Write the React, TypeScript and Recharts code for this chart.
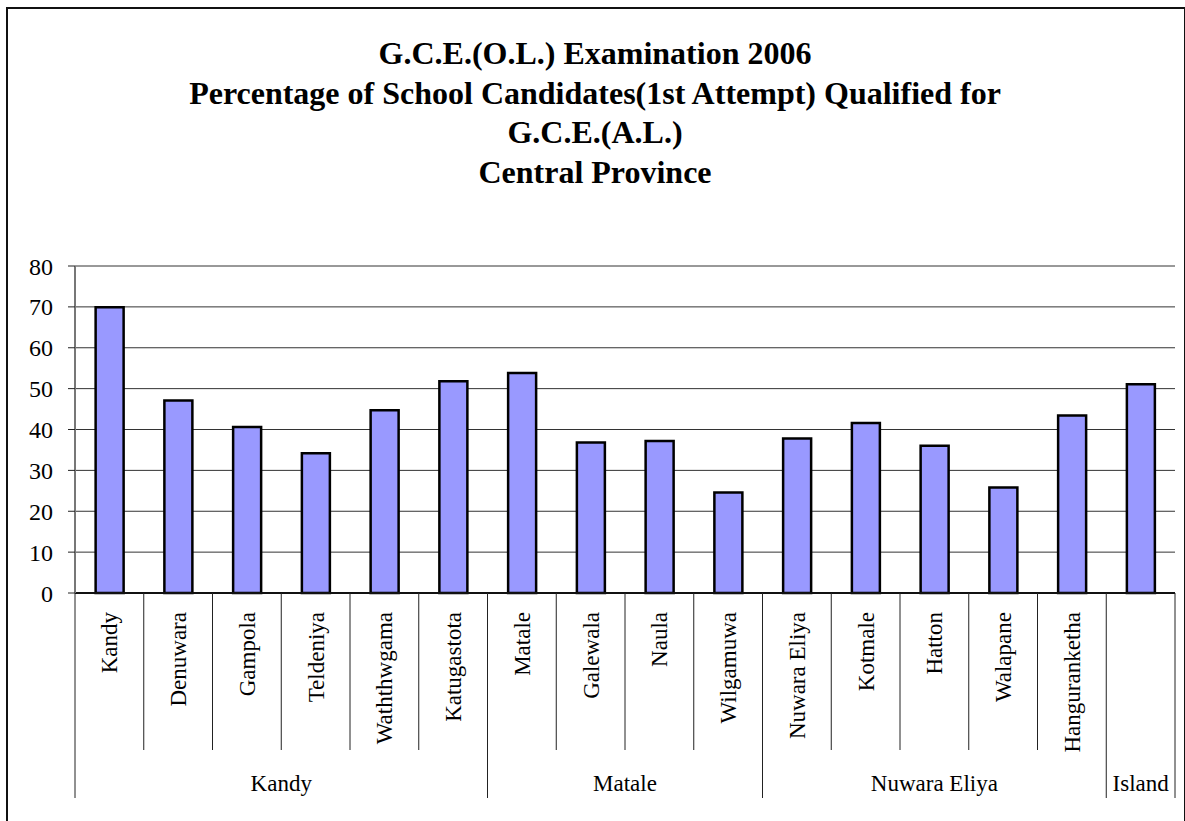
import { BarChart, Bar, XAxis, YAxis, CartesianGrid } from 'recharts';

const categories = [
  'Kandy', 'Denuwara', 'Gampola', 'Teldeniya', 'Waththwgama', 'Katugastota',
  'Matale', 'Galewala', 'Naula', 'Wilgamuwa',
  'Nuwara Eliya', 'Kotmale', 'Hatton', 'Walapane', 'Hanguranketha',
  '',
];
const percentages = [
  69.9, 47.1, 40.6, 34.2, 44.7, 51.8,
  53.8, 36.8, 37.2, 24.6,
  37.8, 41.6, 36.0, 25.8, 43.4,
  51.1,
];
const groups = ['Kandy', 'Matale', 'Nuwara Eliya', 'Island'];
const groupSizes = [6, 4, 5, 1];
const yTicks = [0, 10, 20, 30, 40, 50, 60, 70, 80];

const titleLines = [
  'G.C.E.(O.L.) Examination 2006',
  'Percentage of School Candidates(1st Attempt) Qualified for',
  'G.C.E.(A.L.)',
  'Central Province',
];

const data = categories.map((name, i) => ({ name, value: percentages[i] }));

const W = 1185;
const H = 821;
const Y_AXIS_W = 75;
const MARGIN = { top: 266, right: 10, left: 0, bottom: 0 };
const PLOT_BOTTOM = 593;
const BAND = (W - MARGIN.left - MARGIN.right - Y_AXIS_W) / categories.length;
const FONT = '"Liberation Serif", "Times New Roman", serif';

// index where each group starts
const groupStarts: Record<number, number> = {};
let acc = 0;
groupSizes.forEach((n, g) => {
  groupStarts[acc] = g;
  acc += n;
});

function CategoryTick(props: any) {
  const { x, payload } = props;
  const i: number = payload.index;
  const left = x - BAND / 2;
  const g = groupStarts[i];
  const isStart = g !== undefined;
  return (
    <g>
      <line x1={left} x2={left} y1={PLOT_BOTTOM} y2={isStart ? 798 : 750} stroke="#222" strokeWidth={1} />
      {i === categories.length - 1 && (
        <line x1={x + BAND / 2} x2={x + BAND / 2} y1={PLOT_BOTTOM} y2={798} stroke="#222" strokeWidth={1} />
      )}
      {payload.value && (
        <text
          transform={`translate(${x},612) rotate(-90)`}
          textAnchor="end"
          dy="0.35em"
          fontSize={23}
          fontFamily={FONT}
          fill="#000"
        >
          {payload.value}
        </text>
      )}
      {isStart && (
        <text
          x={left + (groupSizes[g] * BAND) / 2}
          y={791}
          textAnchor="middle"
          fontSize={23}
          fontFamily={FONT}
          fill="#000"
        >
          {groups[g]}
        </text>
      )}
    </g>
  );
}

export default function App() {
  return (
    <div style={{ position: 'relative', width: W, height: H, background: '#fff', overflow: 'hidden' }}>
      <style>{'body{margin:0}'}</style>
      <div
        style={{
          position: 'absolute',
          left: 6,
          top: 7,
          width: 1176,
          height: 830,
          border: '2px solid #111',
        }}
      />
      <div
        style={{
          position: 'absolute',
          left: 0,
          top: 34,
          width: 1190,
          textAlign: 'center',
          fontFamily: FONT,
          fontWeight: 'bold',
          fontSize: 32,
          lineHeight: '39.5px',
        }}
      >
        {titleLines.map((t) => (
          <div key={t}>{t}</div>
        ))}
      </div>
      <div style={{ position: 'absolute', left: 0, top: 0 }}>
        <BarChart width={W} height={H} data={data} margin={MARGIN} barCategoryGap="30%">
          <CartesianGrid vertical={false} stroke="#333" strokeWidth={1} />
          <XAxis
            dataKey="name"
            interval={0}
            height={H - PLOT_BOTTOM}
            tickLine={false}
            axisLine={{ stroke: '#111', strokeWidth: 2 }}
            tick={(p: any) => <CategoryTick {...p} />}
          />
          <XAxis xAxisId="top" orientation="top" dataKey="name" height={0} tick={false} tickLine={false}
            axisLine={{ stroke: '#8a8a8a', strokeWidth: 3 }} />
          <YAxis
            domain={[0, 80]}
            ticks={yTicks}
            width={Y_AXIS_W}
            tickSize={7}
            tickMargin={15}
            tickLine={{ stroke: '#222' }}
            axisLine={{ stroke: '#777', strokeWidth: 2 }}
            tick={{ fontSize: 24, fontFamily: FONT, fill: '#000' }}
          />
          <YAxis yAxisId="right" orientation="right" width={0} domain={[0, 80]} tick={false} tickLine={false}
            axisLine={{ stroke: '#8a8a8a', strokeWidth: 3 }} />
          <Bar dataKey="value" fill="#9999FF" stroke="#000" strokeWidth={2.5} isAnimationActive={false} />
        </BarChart>
      </div>
    </div>
  );
}
